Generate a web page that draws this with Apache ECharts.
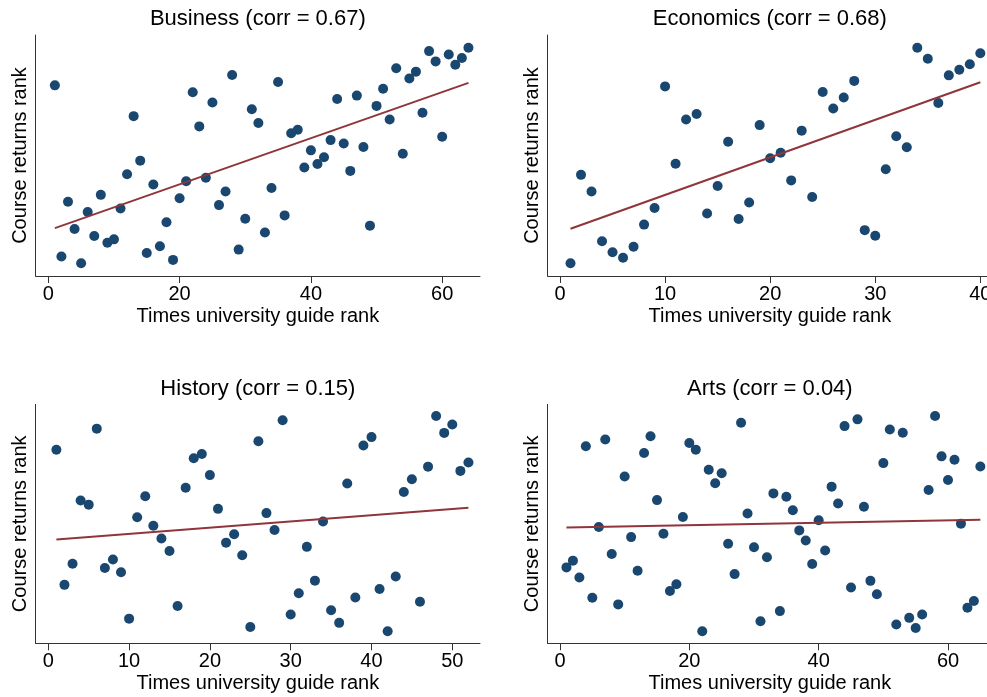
<!DOCTYPE html>
<html>
<head>
<meta charset="utf-8">
<script src="https://cdn.jsdelivr.net/npm/echarts@6/dist/echarts.min.js"></script>
<style>
  html, body { margin: 0; padding: 0; background: #fff; }
  #main { width: 987px; height: 697px; }
</style>
</head>
<body>
<div id="main"></div>
<script>
// course returns rank, listed in order of Times guide rank (1, 2, 3, ...)
const businessRank = [53,3,19,11,1,16,9,21,7,8,17,27,44,31,4,24,6,13,2,20,25,51,41,26,48,18,22,56,5,14,46,42,10,23,54,15,39,40,29,34,30,32,37,49,36,28,50,35,12,47,52,43,58,33,55,57,45,63,60,38,62,59,61,64];
const economicsRank = [1,17,14,5,3,2,4,8,11,33,19,27,28,10,15,23,9,12,26,20,21,16,25,13,32,29,31,34,7,6,18,24,22,40,38,30,35,36,37,39];
const historyRank = [44,12,17,32,31,49,16,18,15,4,28,33,26,23,20,7,35,42,43,38,30,22,24,19,2,46,29,25,51,5,10,21,13,27,6,3,36,9,45,47,11,1,14,34,37,8,40,52,48,50,39,41];
const artsRank = [20,22,17,56,11,32,58,24,9,47,29,19,54,59,40,30,13,15,35,57,55,1,49,45,48,27,18,63,36,26,4,23,42,7,41,37,31,28,21,34,25,44,39,62,14,64,38,16,12,51,61,3,60,5,2,6,43,65,53,46,52,33,8,10,50];

const panelTitles = ['Business (corr = 0.67)', 'Economics (corr = 0.68)', 'History (corr = 0.15)', 'Arts (corr = 0.04)'];
const xTicks = [[0, 20, 40, 60], [0, 10, 20, 30, 40], [0, 10, 20, 30, 40, 50], [0, 20, 40, 60]];

(function () {
  let myChart = echarts.init(document.getElementById('main'));
  const font = "'Liberation Sans', Arial, sans-serif";
  const ranks = [businessRank, economicsRank, historyRank, artsRank];

  // panel layout (px) and axis extents
  const grids = [
    { left: 35.7, top: 35, width: 444.3, height: 241, outerBoundsMode: 'none' },
    { left: 547.7, top: 35, width: 444.3, height: 241, outerBoundsMode: 'none' },
    { left: 35.7, top: 404.3, width: 444.3, height: 239, outerBoundsMode: 'none' },
    { left: 547.7, top: 404.3, width: 444.3, height: 239, outerBoundsMode: 'none' }
  ];
  const xRange = [[-1.92, 65.76], [-1.17, 41.11], [-1.56, 53.43], [-1.90, 66.80]];
  const yRange = [[-2.711, 67.71], [-1.297, 42.30], [-1.843, 54.77], [-2.567, 68.48]];

  function pairs(arr) {
    return arr.map(function (v, i) { return [i + 1, v]; });
  }
  // least squares fit line over the data
  function fitLine(arr) {
    const n = arr.length;
    let mx = 0, my = 0;
    arr.forEach(function (v, i) { mx += i + 1; my += v; });
    mx /= n; my /= n;
    let sxy = 0, sxx = 0;
    arr.forEach(function (v, i) { sxy += (i + 1 - mx) * (v - my); sxx += (i + 1 - mx) * (i + 1 - mx); });
    const b = sxy / sxx, a = my - b * mx;
    return [[1, a + b], [n, a + b * n]];
  }

  let option = {
    backgroundColor: '#fff',
    animation: false,
    title: panelTitles.map(function (t, i) {
      return {
        text: t,
        left: grids[i].left + grids[i].width / 2,
        top: grids[i].top - 26.7,
        textAlign: 'center',
        padding: 0,
        textStyle: { fontFamily: font, fontSize: 22, fontWeight: 'normal', color: '#000' }
      };
    }),
    grid: grids,
    xAxis: grids.map(function (g, i) {
      return {
        type: 'value',
        gridIndex: i,
        min: xRange[i][0],
        max: xRange[i][1],
        name: 'Times university guide rank',
        nameLocation: 'middle',
        nameGap: 30,
        nameTextStyle: { fontFamily: font, fontSize: 20, color: '#000' },
        axisLine: { show: true, onZero: false, lineStyle: { color: '#333', width: 1 } },
        axisTick: { show: true, length: 7, customValues: xTicks[i], lineStyle: { color: '#333' } },
        axisLabel: { customValues: xTicks[i], margin: 8, fontFamily: font, fontSize: 20, color: '#000' },
        splitLine: { show: false }
      };
    }),
    yAxis: grids.map(function (g, i) {
      return {
        type: 'value',
        gridIndex: i,
        min: yRange[i][0],
        max: yRange[i][1],
        name: 'Course returns rank',
        nameLocation: 'middle',
        nameGap: 5,
        nameTextStyle: { fontFamily: font, fontSize: 20, color: '#000' },
        axisLine: { show: true, onZero: false, lineStyle: { color: '#333', width: 1 } },
        axisTick: { show: false },
        axisLabel: { show: false },
        splitLine: { show: false }
      };
    }),
    series: []
  };

  ranks.forEach(function (arr, i) {
    option.series.push({
      type: 'scatter',
      xAxisIndex: i,
      yAxisIndex: i,
      symbolSize: 10,
      itemStyle: { color: '#1a476f', opacity: 1 },
      data: pairs(arr)
    });
    option.series.push({
      type: 'line',
      xAxisIndex: i,
      yAxisIndex: i,
      symbol: 'none',
      lineStyle: { color: '#90353b', width: 2 },
      data: fitLine(arr)
    });
  });

  myChart.setOption(option);
  window.addEventListener('resize', function () {
    myChart.resize();
  });
})();
</script>
</body>
</html>
